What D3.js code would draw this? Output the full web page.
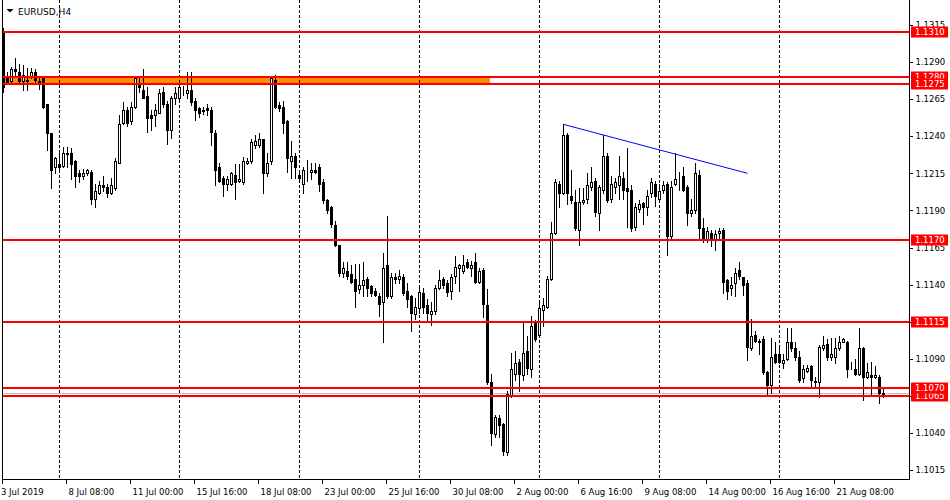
<!DOCTYPE html>
<html><head><meta charset="utf-8">
<script src="https://cdn.jsdelivr.net/npm/d3@7/dist/d3.min.js"></script>
<style>
html,body{margin:0;padding:0;background:#fff;}
svg{display:block;font-family:"DejaVu Sans",sans-serif;}
</style></head><body>
<svg id="chart" width="950" height="500"></svg>
<script>
const symbol = "EURUSD,H4";
const opens = [
1.1311,1.1280,1.1277,1.1285,1.1283,1.1277,1.1278,1.1280,1.1283,1.1277,
1.1279,1.1262,1.1242,1.1219,1.1221,1.1220,1.1229,1.1229,1.1223,1.1215,
1.1213,1.1215,1.1216,1.1198,1.1202,1.1207,1.1206,1.1202,1.1205,1.1222,
1.1249,1.1258,1.1250,1.1260,1.1276,1.1271,1.1267,1.1254,1.1254,1.1256,
1.1270,1.1262,1.1244,1.1266,1.1266,1.1271,1.1269,1.1271,1.1264,1.1259,
1.1257,1.1259,1.1258,1.1242,1.1219,1.1212,1.1208,1.1208,1.1214,1.1210,
1.1209,1.1222,1.1223,1.1234,1.1234,1.1238,1.1215,1.1223,1.1278,1.1261,
1.1260,1.1250,1.1223,1.1227,1.1214,1.1208,1.1216,1.1216,1.1217,1.1219,
1.1209,1.1197,1.1192,1.1180,1.1167,1.1148,1.1149,1.1147,1.1144,1.1137,
1.1140,1.1144,1.1139,1.1136,1.1132,1.1128,1.1153,1.1132,1.1145,1.1144,
1.1145,1.1136,1.1132,1.1120,1.1124,1.1134,1.1126,1.1120,1.1122,1.1138,
1.1144,1.1141,1.1136,1.1146,1.1151,1.1149,1.1155,1.1151,1.1155,1.1142,
1.1150,1.1126,1.1074,1.1039,1.1050,1.1046,1.1027,1.1065,1.1080,1.1088,
1.1079,1.1095,1.1083,1.1114,1.1106,1.1123,1.1125,1.1144,1.1175,1.1208,
1.1202,1.1241,1.1200,1.1196,1.1177,1.1196,1.1198,1.1206,1.1210,1.1188,
1.1204,1.1227,1.1198,1.1206,1.1207,1.1212,1.1205,1.1204,1.1179,1.1191,
1.1195,1.1192,1.1202,1.1208,1.1198,1.1204,1.1208,1.1173,1.1208,1.1210,
1.1213,1.1206,1.1188,1.1190,1.1214,1.1178,1.1170,1.1175,1.1170,1.1175,
1.1177,1.1143,1.1138,1.1141,1.1150,1.1145,1.1141,1.1097,1.1106,1.1102,
1.1103,1.1081,1.1072,1.1093,1.1093,1.1087,1.1090,1.1101,1.1097,1.1091,
1.1077,1.1082,1.1085,1.1075,1.1074,1.1097,1.1100,1.1091,1.1091,1.1097,
1.1101,1.1101,1.1084,1.1083,1.1080,1.1097,1.1078,1.1079,1.1078,1.1078,1.1066];
const highs = [
1.1313,1.1283,1.1287,1.1293,1.1289,1.1288,1.1286,1.1286,1.1285,1.1279,
1.1280,1.1262,1.1242,1.1226,1.1231,1.1233,1.1233,1.1232,1.1224,1.1217,
1.1218,1.1218,1.1217,1.1208,1.1210,1.1213,1.1208,1.1212,1.1225,1.1254,
1.1263,1.1260,1.1263,1.1280,1.1280,1.1285,1.1273,1.1258,1.1262,1.1272,
1.1273,1.1264,1.1267,1.1273,1.1278,1.1274,1.1283,1.1283,1.1266,1.1260,
1.1260,1.1262,1.1260,1.1244,1.1222,1.1213,1.1213,1.1216,1.1221,1.1221,
1.1226,1.1225,1.1238,1.1241,1.1242,1.1238,1.1229,1.1280,1.1281,1.1263,
1.1264,1.1251,1.1237,1.1229,1.1216,1.1219,1.1224,1.1222,1.1222,1.1221,
1.1211,1.1198,1.1193,1.1183,1.1167,1.1155,1.1155,1.1153,1.1154,1.1154,
1.1155,1.1145,1.1140,1.1138,1.1134,1.1161,1.1186,1.1148,1.1148,1.1150,
1.1147,1.1141,1.1133,1.1131,1.1138,1.1138,1.1130,1.1128,1.1140,1.1150,
1.1145,1.1143,1.1147,1.1159,1.1154,1.1160,1.1157,1.1156,1.1161,1.1151,
1.1151,1.1137,1.1080,1.1052,1.1052,1.1047,1.1068,1.1094,1.1095,1.1090,
1.1114,1.1105,1.1119,1.1116,1.1128,1.1131,1.1146,1.1182,1.1211,1.1210,
1.1248,1.1242,1.1217,1.1204,1.1205,1.1205,1.1215,1.1219,1.1212,1.1207,
1.1241,1.1229,1.1213,1.1212,1.1227,1.1216,1.1232,1.1207,1.1195,1.1197,
1.1196,1.1204,1.1212,1.1210,1.1208,1.1210,1.1209,1.1210,1.1229,1.1216,
1.1219,1.1207,1.1198,1.1222,1.1217,1.1185,1.1179,1.1177,1.1177,1.1178,
1.1178,1.1144,1.1145,1.1151,1.1155,1.1145,1.1143,1.1117,1.1109,1.1103,
1.1105,1.1082,1.1104,1.1101,1.1099,1.1093,1.1111,1.1111,1.1101,1.1095,
1.1086,1.1086,1.1086,1.1078,1.1099,1.1105,1.1103,1.1104,1.1104,1.1105,
1.1104,1.1102,1.1088,1.1090,1.1111,1.1098,1.1087,1.1088,1.1085,1.1079,1.1071];
const lows = [
1.1270,1.1275,1.1276,1.1281,1.1276,1.1271,1.1271,1.1279,1.1276,1.1272,
1.1259,1.1231,1.1205,1.1215,1.1217,1.1219,1.1219,1.1211,1.1206,1.1209,
1.1211,1.1214,1.1194,1.1192,1.1201,1.1203,1.1199,1.1201,1.1204,1.1222,
1.1248,1.1247,1.1248,1.1259,1.1270,1.1266,1.1243,1.1244,1.1247,1.1256,
1.1260,1.1235,1.1239,1.1262,1.1265,1.1268,1.1266,1.1261,1.1251,1.1253,
1.1255,1.1254,1.1234,1.1207,1.1209,1.1200,1.1204,1.1207,1.1198,1.1209,
1.1208,1.1221,1.1222,1.1232,1.1233,1.1202,1.1213,1.1221,1.1259,1.1257,
1.1242,1.1216,1.1212,1.1212,1.1211,1.1202,1.1210,1.1211,1.1215,1.1203,
1.1195,1.1188,1.1179,1.1166,1.1146,1.1145,1.1144,1.1141,1.1125,1.1134,
1.1132,1.1132,1.1132,1.1132,1.1119,1.1101,1.1131,1.1131,1.1141,1.1141,
1.1133,1.1125,1.1109,1.1117,1.1121,1.1121,1.1115,1.1113,1.1120,1.1137,
1.1138,1.1132,1.1130,1.1141,1.1136,1.1148,1.1151,1.1146,1.1141,1.1141,
1.1118,1.1073,1.1032,1.1037,1.1037,1.1025,1.1025,1.1064,1.1076,1.1068,
1.1076,1.1080,1.1078,1.1102,1.1105,1.1112,1.1124,1.1143,1.1174,1.1192,
1.1201,1.1194,1.1195,1.1177,1.1167,1.1194,1.1195,1.1204,1.1186,1.1177,
1.1202,1.1196,1.1196,1.1202,1.1198,1.1198,1.1179,1.1176,1.1177,1.1189,
1.1181,1.1187,1.1199,1.1193,1.1196,1.1202,1.1160,1.1170,1.1207,1.1204,
1.1203,1.1180,1.1186,1.1188,1.1170,1.1169,1.1169,1.1166,1.1163,1.1171,
1.1134,1.1130,1.1133,1.1132,1.1144,1.1133,1.1089,1.1096,1.1101,1.1093,
1.1080,1.1065,1.1067,1.1087,1.1087,1.1084,1.1089,1.1095,1.1089,1.1074,
1.1074,1.1081,1.1070,1.1071,1.1064,1.1096,1.1089,1.1089,1.1087,1.1096,
1.1101,1.1078,1.1083,1.1079,1.1079,1.1062,1.1077,1.1066,1.1077,1.1060,1.1064];
const closes = [
1.1273,1.1276,1.1285,1.1284,1.1277,1.1281,1.1277,1.1283,1.1278,1.1276,
1.1260,1.1242,1.1217,1.1225,1.1219,1.1229,1.1228,1.1221,1.1213,1.1213,
1.1215,1.1217,1.1198,1.1203,1.1207,1.1206,1.1202,1.1207,1.1223,1.1248,
1.1258,1.1249,1.1260,1.1279,1.1273,1.1266,1.1252,1.1252,1.1258,1.1269,
1.1262,1.1244,1.1266,1.1269,1.1273,1.1271,1.1271,1.1263,1.1258,1.1256,
1.1258,1.1258,1.1243,1.1217,1.1210,1.1208,1.1211,1.1215,1.1209,1.1211,
1.1223,1.1223,1.1236,1.1237,1.1238,1.1215,1.1222,1.1279,1.1260,1.1259,
1.1249,1.1225,1.1227,1.1219,1.1212,1.1217,1.1216,1.1217,1.1216,1.1208,
1.1197,1.1190,1.1181,1.1167,1.1148,1.1151,1.1146,1.1142,1.1136,1.1140,
1.1143,1.1138,1.1134,1.1133,1.1127,1.1151,1.1132,1.1145,1.1144,1.1146,
1.1134,1.1130,1.1121,1.1125,1.1135,1.1125,1.1121,1.1122,1.1138,1.1143,
1.1140,1.1135,1.1145,1.1152,1.1153,1.1153,1.1152,1.1153,1.1142,1.1149,
1.1127,1.1074,1.1040,1.1051,1.1045,1.1028,1.1066,1.1083,1.1087,1.1080,
1.1094,1.1084,1.1112,1.1103,1.1124,1.1126,1.1144,1.1175,1.1209,1.1202,
1.1241,1.1202,1.1197,1.1178,1.1196,1.1197,1.1207,1.1209,1.1189,1.1206,
1.1227,1.1197,1.1208,1.1209,1.1213,1.1204,1.1203,1.1178,1.1192,1.1194,
1.1192,1.1200,1.1209,1.1200,1.1203,1.1207,1.1173,1.1206,1.1211,1.1210,
1.1204,1.1188,1.1190,1.1215,1.1178,1.1170,1.1176,1.1170,1.1174,1.1176,
1.1142,1.1136,1.1140,1.1148,1.1146,1.1140,1.1098,1.1105,1.1102,1.1101,
1.1081,1.1072,1.1091,1.1088,1.1088,1.1089,1.1101,1.1097,1.1091,1.1076,
1.1083,1.1084,1.1076,1.1074,1.1098,1.1099,1.1091,1.1093,1.1097,1.1101,
1.1103,1.1083,1.1084,1.1080,1.1097,1.1078,1.1081,1.1078,1.1079,1.1067,1.1067];

const timeLabels = ["3 Jul 2019","8 Jul 08:00","11 Jul 00:00","15 Jul 16:00","18 Jul 08:00","23 Jul 00:00","25 Jul 16:00","30 Jul 08:00","2 Aug 00:00","6 Aug 16:00","9 Aug 08:00","14 Aug 00:00","16 Aug 16:00","21 Aug 08:00"];
const labelEveryBars = 16;
const gridFirstBar = 14, gridEveryBars = 30;
const priceTicks = [1.1015,1.1040,1.1065,1.1090,1.1115,1.1140,1.1165,1.1190,1.1215,1.1240,1.1265,1.1290,1.1315];
const levelPrices = [1.1310,1.1280,1.1275,1.1170,1.1115,1.1065,1.1070];
const zoneBars = [0, 121.6];
const zonePrices = [1.1280, 1.1275];
const trendBars = [140, 186];
const trendPrices = [1.1248, 1.1215];

const svg = d3.select("#chart");
const n = closes.length;
const PL = 2.5, PR = 909.5, PB = 479.5;

const x = d3.scaleLinear().domain([0, n - 1]).range([3.5, 3.5 + 4 * (n - 1)]);
const y = d3.scaleLinear().domain([1.1015, 1.1315]).range([470, 25]);

svg.append("rect").attr("width", 950).attr("height", 500).attr("fill", "#fff");

svg.append("defs").append("clipPath").attr("id", "plot")
  .append("rect").attr("x", 3).attr("y", 0).attr("width", PR - 3).attr("height", PB);

const plot = svg.append("g").attr("clip-path", "url(#plot)");

// orange zone
plot.append("rect")
  .attr("x", x(zoneBars[0]) - 4).attr("width", x(zoneBars[1]) - x(zoneBars[0]) + 4)
  .attr("y", y(zonePrices[0])).attr("height", y(zonePrices[1]) - y(zonePrices[0]))
  .attr("fill", "#ff8c00");

// vertical grid
const gridBars = d3.range(gridFirstBar, n, gridEveryBars);
plot.selectAll(".grid").data(gridBars).join("line")
  .attr("x1", d => x(d)).attr("x2", d => x(d))
  .attr("y1", 0).attr("y2", PB)
  .attr("stroke", "#000").attr("stroke-dasharray", "3,2")
  .attr("shape-rendering", "crispEdges");

// bid line
plot.append("line")
  .attr("x1", 3).attr("x2", PR)
  .attr("y1", Math.round(y(closes[n - 1])) + 0.5).attr("y2", Math.round(y(closes[n - 1])) + 0.5)
  .attr("stroke", "#c0c0c0").attr("shape-rendering", "crispEdges");

// candles
const idx = d3.range(n);
const cg = plot.append("g");
cg.selectAll(".wick").data(idx).join("line")
  .attr("x1", i => x(i)).attr("x2", i => x(i))
  .attr("y1", i => Math.round(y(highs[i])))
  .attr("y2", i => Math.round(y(lows[i])) + 1)
  .attr("stroke", "#000").attr("shape-rendering", "crispEdges");
cg.selectAll(".body").data(idx).join("rect")
  .attr("x", i => x(i) - 1)
  .attr("width", 2)
  .attr("y", i => Math.round(y(Math.max(opens[i], closes[i]))) + 0.5)
  .attr("height", i => Math.round(y(Math.min(opens[i], closes[i]))) - Math.round(y(Math.max(opens[i], closes[i]))))
  .attr("fill", i => closes[i] >= opens[i] ? "#fff" : "#000")
  .attr("stroke", "#000").attr("stroke-width", 1)
  .attr("shape-rendering", "crispEdges");

// trend line
plot.append("line")
  .attr("x1", x(trendBars[0])).attr("y1", y(trendPrices[0]))
  .attr("x2", x(trendBars[1])).attr("y2", y(trendPrices[1]))
  .attr("stroke", "#0000ff").attr("stroke-width", 1);

// red levels
plot.selectAll(".lvl").data(levelPrices).join("line")
  .attr("x1", 3).attr("x2", PR)
  .attr("y1", d => Math.round(y(d))).attr("y2", d => Math.round(y(d)))
  .attr("stroke", "#ff0000").attr("stroke-width", 2)
  .attr("shape-rendering", "crispEdges");

// frame
svg.append("line").attr("x1", PL).attr("x2", PL).attr("y1", 0).attr("y2", PB + 0.5)
  .attr("stroke", "#000").attr("shape-rendering", "crispEdges");
svg.append("line").attr("x1", PR).attr("x2", PR).attr("y1", 0).attr("y2", PB + 0.5)
  .attr("stroke", "#000").attr("shape-rendering", "crispEdges");
svg.append("line").attr("x1", PL).attr("x2", PR).attr("y1", PB).attr("y2", PB)
  .attr("stroke", "#000").attr("shape-rendering", "crispEdges");

// price axis
const yAxis = d3.axisRight(y).tickValues(priceTicks).tickSize(3).tickPadding(3)
  .tickFormat(d3.format(".4f"));
const ya = svg.append("g").attr("transform", `translate(${PR},0)`).call(yAxis);
ya.select(".domain").remove();
ya.attr("font-family", "DejaVu Sans, sans-serif").attr("font-size", 8.5);
ya.selectAll("line").attr("shape-rendering", "crispEdges");

// time axis
const labelBars = timeLabels.map((_, k) => k * labelEveryBars);
const xAxis = d3.axisBottom(x).tickValues(labelBars).tickSize(4).tickPadding(5)
  .tickFormat((d, k) => timeLabels[k]);
const xa = svg.append("g").attr("transform", `translate(-2,${PB})`).call(xAxis);
xa.select(".domain").remove();
xa.attr("font-family", "DejaVu Sans, sans-serif").attr("font-size", 8.5);
xa.selectAll("line").attr("shape-rendering", "crispEdges");
xa.selectAll("text").attr("text-anchor", "start").attr("x", (d, k) => k === 0 ? -1 : 2.5);

// level labels
const lg = svg.append("g");
levelPrices.forEach(p => {
  const yy = Math.round(y(p));
  lg.append("rect").attr("x", 911).attr("y", yy - 5.5).attr("width", 37).attr("height", 11)
    .attr("fill", "#ff0000");
  lg.append("text").attr("x", 915).attr("y", yy).attr("dy", "0.35em")
    .attr("font-size", 8.5).attr("fill", "#fff").text(d3.format(".4f")(p));
});

// title
svg.append("path").attr("d", "M6.5,9 L13.5,9 L10,12.5 Z").attr("fill", "#000");
svg.append("text").attr("x", 18).attr("y", 14.5).attr("font-size", 9).attr("fill", "#000").text(symbol);
</script>
</body></html>
